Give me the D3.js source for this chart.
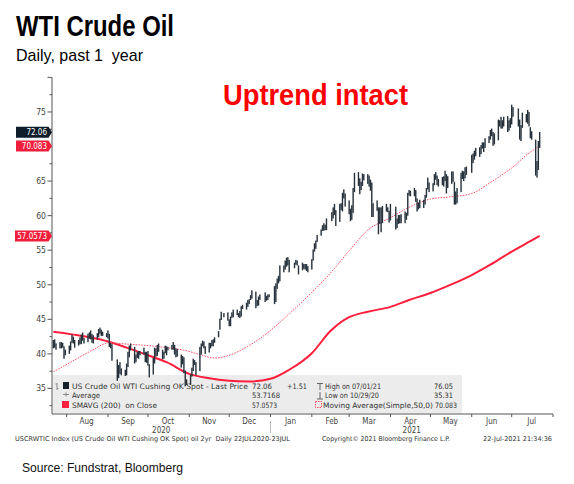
<!DOCTYPE html>
<html>
<head>
<meta charset="utf-8">
<script src="https://cdn.jsdelivr.net/npm/d3@7/dist/d3.min.js"></script>
<style>
  body { margin: 0; background: #fff; }
  .hd { font-family: "Liberation Sans", Arial, sans-serif; }
  .bb { font-family: "DejaVu Sans", Verdana, sans-serif; font-stretch: condensed; }
</style>
</head>
<body>
<script>
const width = 574;
const height = 484;

// trading calendar: weekdays in the window, minus exchange holidays
const firstDay = "2020-07-22";
const lastDay = "2021-07-22";
const holidays = ["2020-09-07", "2020-11-26", "2020-12-25", "2021-01-01", "2021-01-18",
  "2021-02-15", "2021-04-02", "2021-05-31", "2021-07-05"];

// daily lows, one row per month (Jul 2020 .. Jul 2021)
const lows = [
  [40.8, 40.9, 40.6, 40.8, 40.8, 40.9, 39.3, 39.8],
  [40.0, 40.5, 41.6, 41.5, 40.9, 41.2, 41.4, 41.4, 41.9, 41.5, 41.7, 42.2, 42.1, 41.6, 41.5, 42.1, 42.4, 42.9, 42.6, 42.6, 42.4],
  [42.2, 41.0, 40.8, 39.0, 36.1, 36.5, 37.1, 36.9, 36.8, 36.9, 38.1, 39.5, 40.5, 38.6, 38.8, 39.4, 39.3, 39.8, 39.9, 38.8, 38.7],
  [38.3, 36.6, 37.0, 38.6, 39.6, 39.7, 40.3, 39.2, 39.3, 40.1, 39.8, 40.5, 40.6, 40.6, 39.9, 39.5, 39.6, 38.0, 38.5, 37.2, 35.31, 35.5],
  [35.5, 36.7, 37.5, 38.4, 36.9, 37.5, 39.9, 41.1, 40.8, 40.0, 40.2, 40.8, 41.1, 41.1, 41.6, 42.4, 43.5, 44.9, 45.3, 44.8],
  [44.0, 44.0, 45.2, 45.3, 45.6, 45.3, 45.2, 45.4, 46.5, 46.4, 46.8, 47.2, 47.8, 48.0, 46.6, 46.9, 47.0, 47.8, 47.5, 47.7, 47.8, 48.2],
  [47.2, 47.5, 49.4, 50.2, 50.5, 51.8, 52.2, 52.6, 52.8, 51.8, 52.4, 52.9, 52.8, 51.5, 52.1, 52.3, 52.2, 52.0, 51.8],
  [52.2, 53.5, 54.8, 55.2, 56.2, 57.1, 57.8, 57.8, 57.9, 57.9, 59.2, 59.6, 60.1, 58.5, 59.1, 60.8, 60.6, 62.5, 61.3],
  [60.2, 59.2, 59.4, 60.4, 63.4, 64.3, 63.1, 63.7, 64.3, 65.1, 64.6, 64.2, 63.6, 59.8, 59.8, 60.7, 57.3, 58.8, 57.6, 58.9, 60.6, 60.5, 59.0],
  [59.3, 58.0, 58.2, 58.8, 58.9, 58.9, 58.9, 59.4, 60.0, 62.9, 62.8, 62.8, 62.0, 60.6, 60.9, 61.1, 61.1, 61.6, 62.6, 63.8, 63.4],
  [63.5, 64.4, 65.2, 64.4, 64.2, 64.4, 64.2, 65.0, 63.2, 64.0, 64.6, 64.9, 61.6, 61.6, 61.8, 63.4, 65.3, 65.0, 65.4, 65.9],
  [66.2, 67.6, 68.1, 68.6, 68.5, 68.9, 69.7, 69.2, 69.8, 70.5, 71.0, 71.5, 70.1, 70.3, 70.9, 72.9, 72.6, 72.6, 72.9, 72.1, 72.3, 72.7],
  [73.2, 74.3, 72.9, 71.0, 70.8, 72.7, 73.5, 73.3, 72.9, 71.2, 71.0, 65.8, 65.5, 66.6, 69.8]
].flat();

// daily highs, same layout
const highs = [
  [42.0, 42.1, 41.5, 41.7, 41.7, 41.6, 41.1, 40.6],
  [41.2, 41.8, 42.8, 42.5, 42.0, 42.0, 42.4, 42.8, 43.1, 42.3, 42.9, 43.1, 43.4, 42.9, 42.7, 43.0, 43.6, 43.8, 43.5, 43.2, 43.0],
  [43.4, 42.9, 41.6, 41.4, 39.2, 38.4, 38.8, 37.9, 37.7, 38.6, 40.3, 41.2, 41.5, 41.0, 39.9, 40.3, 40.4, 40.4, 40.9, 40.3, 40.3],
  [40.4, 38.5, 39.4, 40.9, 40.8, 41.3, 41.5, 40.6, 40.3, 41.2, 41.1, 41.0, 41.3, 41.7, 41.3, 40.8, 40.7, 39.9, 39.7, 39.5, 37.6, 36.3],
  [37.0, 38.0, 39.3, 39.1, 38.8, 41.0, 41.5, 41.9, 41.8, 41.1, 41.6, 41.6, 42.0, 42.1, 42.4, 43.3, 45.1, 46.1, 45.9, 46.0],
  [45.0, 45.4, 46.0, 46.4, 46.4, 45.9, 46.2, 46.9, 47.1, 47.4, 47.8, 47.9, 48.5, 49.2, 49.0, 47.8, 48.3, 48.6, 48.9, 48.4, 48.6, 48.6],
  [49.8, 50.2, 50.9, 51.3, 52.8, 52.8, 53.5, 53.9, 54.0, 53.6, 53.2, 53.6, 53.5, 52.8, 53.2, 53.0, 53.0, 53.0, 52.7],
  [53.7, 55.1, 56.0, 56.4, 57.2, 58.0, 58.6, 58.9, 58.7, 59.6, 60.5, 61.2, 61.7, 60.8, 61.7, 61.8, 63.3, 63.8, 63.2],
  [62.2, 61.0, 61.5, 64.0, 66.2, 66.3, 65.4, 64.9, 66.1, 66.0, 66.0, 65.8, 65.2, 64.8, 61.8, 62.2, 61.2, 61.2, 61.2, 61.4, 61.7, 61.2, 60.7],
  [61.7, 61.3, 59.6, 60.1, 60.1, 60.2, 60.6, 60.4, 63.3, 63.7, 63.6, 64.0, 63.7, 62.5, 61.9, 62.3, 62.3, 63.0, 64.0, 65.5, 64.8],
  [64.7, 66.0, 66.3, 65.8, 65.3, 65.6, 65.7, 66.5, 66.0, 65.7, 66.4, 66.4, 64.9, 63.5, 64.0, 66.2, 66.5, 66.4, 67.0, 67.1],
  [68.8, 69.0, 69.4, 69.8, 69.9, 70.2, 70.6, 70.6, 71.2, 71.5, 72.4, 72.6, 72.1, 71.9, 73.9, 73.8, 74.3, 73.8, 74.3, 74.4, 73.8, 74.1],
  [76.05, 75.7, 75.5, 73.9, 73.1, 74.9, 74.7, 75.3, 75.0, 72.8, 72.2, 71.0, 67.9, 70.8, 72.1]
].flat();

// 50-day simple moving average
const ma50Dates = ["2020-07-22", "2020-08-05", "2020-08-19", "2020-09-02", "2020-09-16", "2020-10-01",
  "2020-10-15", "2020-10-29", "2020-11-09", "2020-11-20", "2020-12-01", "2020-12-15", "2021-01-01",
  "2021-01-15", "2021-02-01", "2021-02-15", "2021-03-01", "2021-03-15", "2021-04-01", "2021-04-15",
  "2021-05-01", "2021-05-15", "2021-06-01", "2021-06-15", "2021-07-01", "2021-07-15", "2021-07-22"];
const ma50 = [37.4, 38.9, 40.4, 41.6, 41.4, 41.2, 40.9, 40.5, 39.9, 39.4, 39.8, 41.1, 43.4,
  45.8, 48.9, 51.7, 54.9, 57.9, 59.7, 61.2, 62.4, 62.7, 63.2, 64.8, 66.9, 69.2, 70.083];

// 200-day simple moving average
const sma200Dates = ["2020-07-22", "2020-08-15", "2020-09-01", "2020-09-15", "2020-10-01", "2020-10-15",
  "2020-11-01", "2020-11-15", "2020-12-01", "2020-12-15", "2021-01-01", "2021-01-15", "2021-02-01",
  "2021-02-15", "2021-03-01", "2021-03-15", "2021-04-01", "2021-04-15", "2021-05-01", "2021-05-15",
  "2021-06-01", "2021-06-15", "2021-07-01", "2021-07-15", "2021-07-22"];
const sma200 = [43.2, 42.5, 41.8, 40.9, 39.8, 38.8, 37.1, 36.5, 36.1, 36.0, 36.4, 37.7, 40.1,
  43.3, 45.3, 46.1, 46.8, 47.8, 48.8, 49.9, 51.4, 52.9, 54.8, 56.3, 57.0573];

const yTicks = [35, 40, 45, 50, 55, 60, 65, 75]; // 70 sits under the MA tag
const monthLabels = ["Aug", "Sep", "Oct", "Nov", "Dec", "Jan", "Feb", "Mar", "Apr", "May", "Jun", "Jul"];
const yearLabels = ["2020", "2021"];

const lastPrice = 72.06, lastMa50 = 70.083, lastSma200 = 57.0573;

const parse = d3.utcParse("%Y-%m-%d");
const fmt = d3.utcFormat("%Y-%m-%d");
const off = new Set(holidays);
const days = d3.utcDay.range(parse(firstDay), d3.utcDay.offset(parse(lastDay), 1))
  .filter(d => d.getUTCDay() % 6 !== 0 && !off.has(fmt(d)));

const x = d3.scaleUtc().domain([parse("2020-07-21"), parse("2021-08-01")]).range([52, 553]);
const y = d3.scaleLinear().domain([31.3, 80]).range([414, 77.4]);

const svg = d3.select("body").append("svg")
  .attr("width", width)
  .attr("height", height);

// headings
svg.append("text").attr("class", "hd").attr("x", 16).attr("y", 36)
  .attr("font-size", 29).attr("font-weight", "bold").attr("fill", "#000")
  .attr("textLength", 158).attr("lengthAdjust", "spacingAndGlyphs")
  .text("WTI Crude Oil");
svg.append("text").attr("class", "hd").attr("x", 16).attr("y", 61)
  .attr("font-size", 17).attr("fill", "#000").style("white-space", "pre")
  .attr("textLength", 127).attr("lengthAdjust", "spacingAndGlyphs")
  .text("Daily, past 1  year");
svg.append("text").attr("class", "hd").attr("x", 223).attr("y", 105)
  .attr("font-size", 30).attr("font-weight", "bold").attr("fill", "#ff0000")
  .attr("textLength", 185).attr("lengthAdjust", "spacingAndGlyphs")
  .text("Uptrend intact");
svg.append("text").attr("class", "hd").attr("x", 22).attr("y", 472)
  .attr("font-size", 13).attr("fill", "#111")
  .attr("textLength", 161).attr("lengthAdjust", "spacingAndGlyphs")
  .text("Source: Fundstrat, Bloomberg");

// small Bloomberg-style text helper
function bbText(g, px, py, str, size, len, color) {
  const t = g.append("text").attr("class", "bb").attr("x", px).attr("y", py)
    .attr("font-size", size).attr("fill", color || "#333").style("white-space", "pre").text(str);
  if (len) t.attr("textLength", len).attr("lengthAdjust", "spacingAndGlyphs");
  return t;
}

// legend box sits under the plot marks
const leg = svg.append("g");
leg.append("rect").attr("x", 53).attr("y", 375).attr("width", 409).attr("height", 38).attr("fill", "#ececec");

// y axis
const yAxis = svg.append("g").attr("stroke", "#555");
yAxis.append("line").attr("x1", 52).attr("x2", 52).attr("y1", y(80)).attr("y2", 414);
yAxis.selectAll(".maj").data(d3.range(35, 80.1, 5)).join("line")
  .attr("x1", 47.5).attr("x2", 52).attr("y1", d => y(d)).attr("y2", d => y(d));
yAxis.selectAll(".min").data(d3.range(32.5, 80, 5)).join("line")
  .attr("x1", 49.5).attr("x2", 52).attr("y1", d => y(d)).attr("y2", d => y(d));
svg.append("g").selectAll("text").data(yTicks).join("text")
  .attr("class", "bb").attr("x", 46).attr("y", d => y(d) + 3)
  .attr("text-anchor", "end").attr("font-size", 8.6).attr("fill", "#444")
  .text(d => d);

// x axis
const months = d3.utcMonth.range(parse("2020-08-01"), parse("2021-08-02"));
const xAxis = svg.append("g").attr("stroke", "#555");
xAxis.append("line").attr("x1", 52).attr("x2", 553).attr("y1", 414).attr("y2", 414);
xAxis.selectAll(".t").data(months).join("line")
  .attr("x1", d => x(d)).attr("x2", d => x(d)).attr("y1", 414).attr("y2", 417);
svg.append("line").attr("x1", x(parse("2021-01-01"))).attr("x2", x(parse("2021-01-01")))
  .attr("y1", 421).attr("y2", 433).attr("stroke", "#bbb");
svg.append("g").selectAll("text").data(monthLabels).join("text")
  .attr("class", "bb").attr("text-anchor", "middle").attr("font-size", 8).attr("fill", "#444")
  .attr("x", (d, i) => x(d3.utcDay.offset(months[i], 15)))
  .attr("y", 423.5)
  .text(d => d);
svg.append("g").selectAll("text").data(yearLabels).join("text")
  .attr("class", "bb").attr("text-anchor", "middle").attr("font-size", 8).attr("fill", "#444")
  .attr("x", (d, i) => i === 0 ? (52 + x(parse("2021-01-01"))) / 2 : (x(parse("2021-01-01")) + 553) / 2)
  .attr("y", 432.5)
  .text(d => d);

// footer line
bbText(svg, 15, 441, "USCRWTIC Index (US Crude Oil WTI Cushing OK Spot) oil 2yr  Daily 22JUL2020-23JUL", 6.6, 275, "#333");
bbText(svg, 322, 441, "Copyright\u00a9 2021 Bloomberg Finance L.P.", 6.6, 128, "#333");
bbText(svg, 483, 441, "22-Jul-2021 21:34:36", 6.6, 69, "#333");

// legend content
leg.append("path").attr("d", "M57,383V390M55.5,384H57M57,388.5H58.5").attr("stroke", "#888").attr("fill", "none");
leg.append("rect").attr("x", 63).attr("y", 382).attr("width", 6).attr("height", 7).attr("fill", "#15202b");
bbText(leg, 72, 388.5, "US Crude Oil WTI Cushing OK Spot - Last Price", 7.4, 176);
bbText(leg, 252, 388.5, "72.06", 7.4, 20);
bbText(leg, 287, 388.5, "+1.51", 7.4, 20);
leg.append("path").attr("d", "M317,383.5H323M320,383.5V390").attr("stroke", "#666").attr("fill", "none");
bbText(leg, 325, 388.5, "High on 07/01/21", 7.4, 56);
bbText(leg, 434, 388.5, "76.05", 7.4, 19);

leg.append("path").attr("d", "M63,394.5H69M66,392.5V396.5").attr("stroke", "#888").attr("fill", "none");
bbText(leg, 72, 398, "Average", 7.4, 28);
bbText(leg, 252, 398, "53.7168", 7.4, 28);
leg.append("path").attr("d", "M320,392V399M317,399H323").attr("stroke", "#666").attr("fill", "none");
bbText(leg, 325, 398, "Low on 10/29/20", 7.4, 54);
bbText(leg, 434, 398, "35.31", 7.4, 19);

leg.append("rect").attr("x", 62).attr("y", 401).attr("width", 7).attr("height", 7).attr("fill", "#ff1f3d");
bbText(leg, 72, 407.5, "SMAVG (200)  on Close", 7.4, 85);
bbText(leg, 252, 407.5, "57.0573", 7.4, 25);
leg.append("rect").attr("x", 315.5).attr("y", 401.5).attr("width", 6).attr("height", 6)
  .attr("fill", "none").attr("stroke", "#ff4d63").attr("stroke-dasharray", "1.5,1");
bbText(leg, 323, 407.5, "Moving Average(Simple,50,0)", 7.4, 110);
bbText(leg, 435, 407.5, "70.083", 7.4, 22);

// moving averages
const line = d3.line().x(d => x(d[0])).y(d => y(d[1])).curve(d3.curveMonotoneX);
svg.append("path")
  .datum(sma200Dates.map((d, i) => [parse(d), sma200[i]]))
  .attr("d", line).attr("fill", "none").attr("stroke", "#ff1f3d").attr("stroke-width", 2);
svg.append("path")
  .datum(ma50Dates.map((d, i) => [parse(d), ma50[i]]))
  .attr("d", line).attr("fill", "none").attr("stroke", "#ff5068")
  .attr("stroke-width", 1).attr("stroke-dasharray", "1.6,1.2");

// daily price bars
svg.append("g").selectAll("rect").data(days).join("rect")
  .attr("x", d => x(d) - 0.7)
  .attr("width", 1.4)
  .attr("y", (d, i) => y(highs[i]))
  .attr("height", (d, i) => Math.max(1.2, y(lows[i]) - y(highs[i])))
  .attr("fill", "#26313b");

// last-value tags on the y axis
const tags = [
  { v: lastPrice, label: "72.06", fill: "#0f1c2a", left: 16 },
  { v: lastMa50, label: "70.083", fill: "#f0203c", left: 16 },
  { v: lastSma200, label: "57.0573", fill: "#f0203c", left: 15 }
];
const tg = svg.append("g").selectAll("g").data(tags).join("g")
  .attr("transform", d => `translate(0,${y(d.v)})`);
tg.append("path")
  .attr("d", d => `M${d.left},-5.5H48.5L52,0L48.5,5.5H${d.left}Z`)
  .attr("fill", d => d.fill);
tg.append("text").attr("class", "bb")
  .attr("x", 47).attr("y", 3).attr("text-anchor", "end")
  .attr("font-size", 8).attr("fill", "#fff")
  .text(d => d.label);
</script>
</body>
</html>
